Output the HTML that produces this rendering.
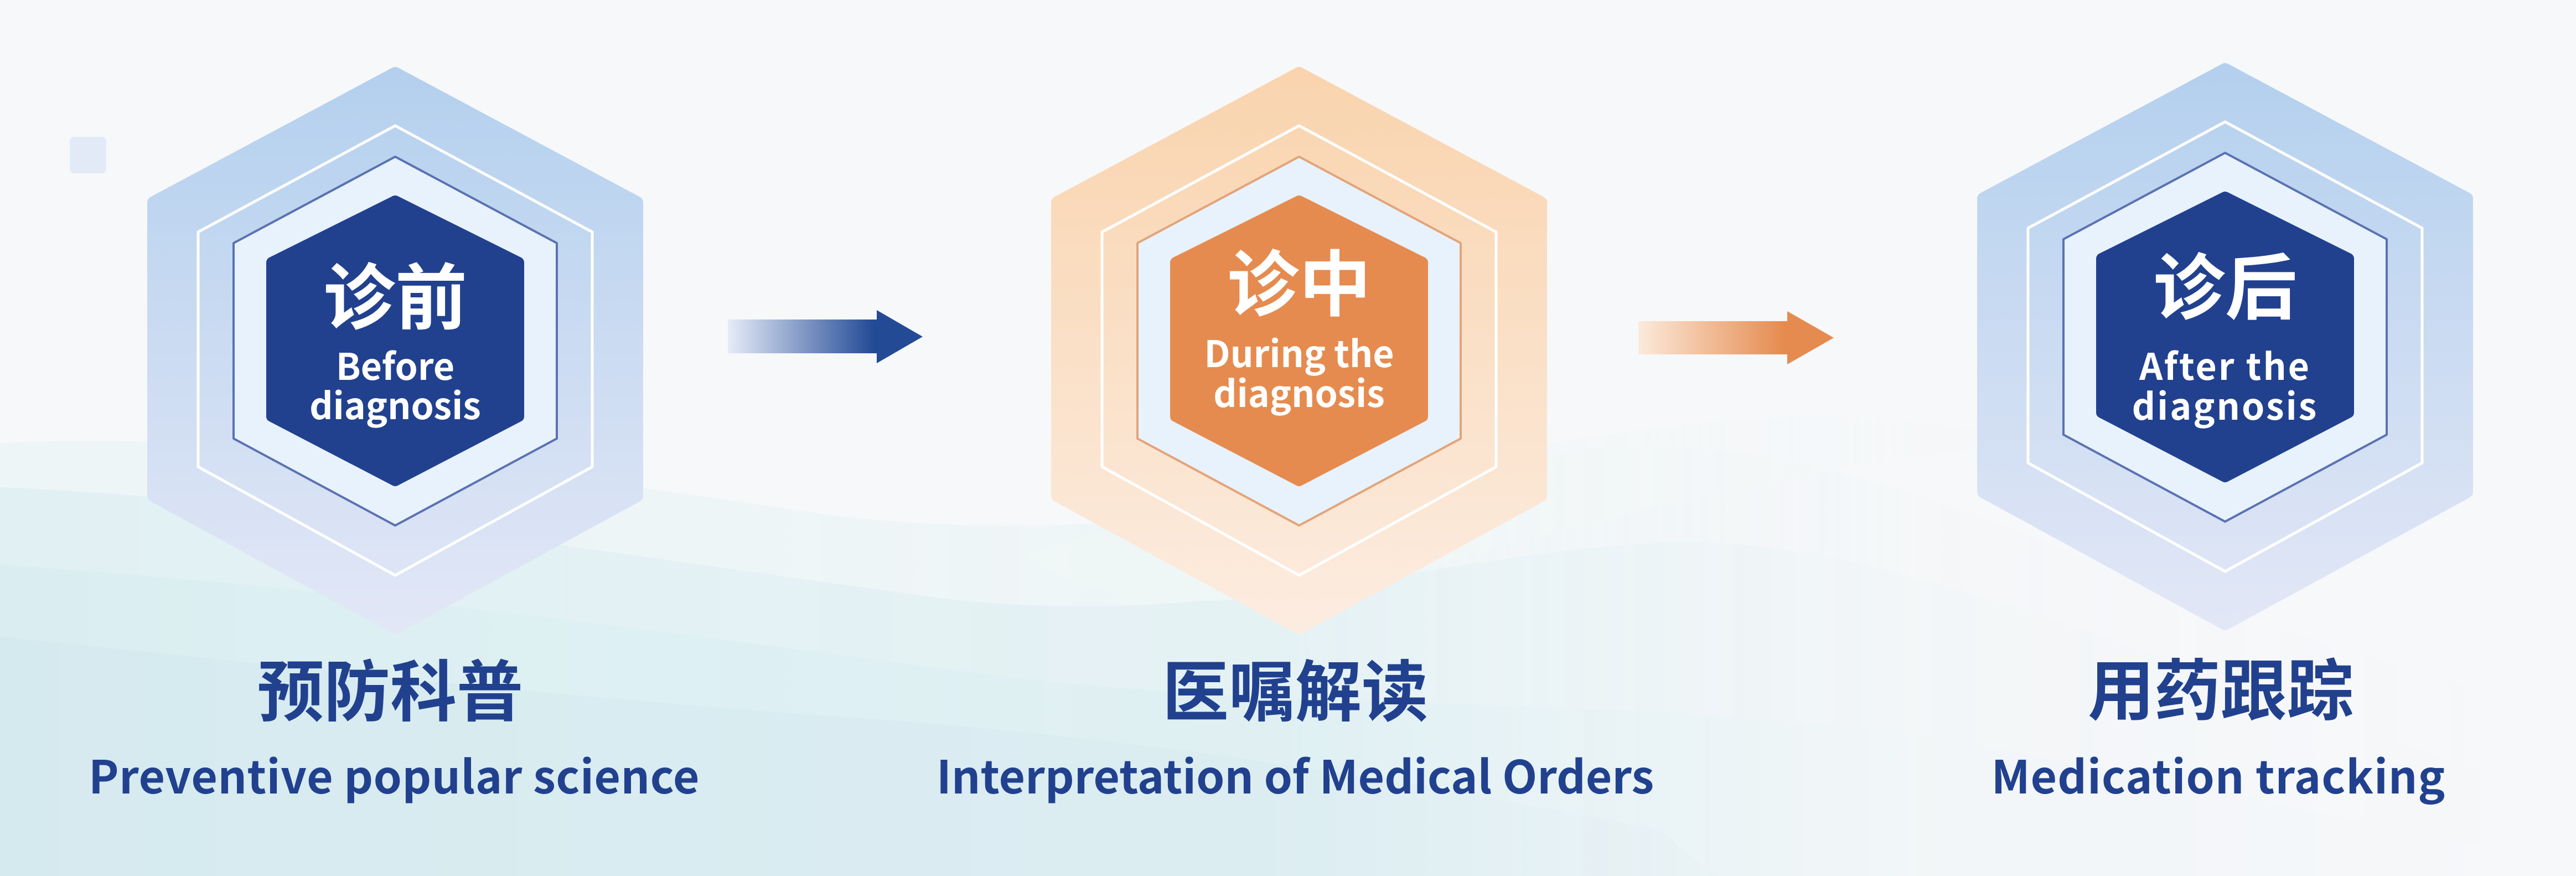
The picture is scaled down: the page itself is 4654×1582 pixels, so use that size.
<!DOCTYPE html>
<html><head><meta charset="utf-8"><style>
html,body{margin:0;padding:0;background:#f7f8fa;}
svg{display:block;}
text{font-family:"Noto Sans CJK SC","Liberation Sans",sans-serif;font-weight:700;}
</style></head><body>
<svg width="4654" height="1582" viewBox="0 0 4654 1582" xmlns="http://www.w3.org/2000/svg">
<defs>
<linearGradient id="bo" x1="0" y1="0" x2="0" y2="1"><stop offset="0" stop-color="#b4d0ee"/><stop offset="1" stop-color="#e2e7f6"/></linearGradient>
<linearGradient id="oo" x1="0" y1="0" x2="0" y2="1"><stop offset="0" stop-color="#f9d4ae"/><stop offset="1" stop-color="#fcece0"/></linearGradient>
<linearGradient id="a1" x1="0" y1="0" x2="1" y2="0"><stop offset="0" stop-color="#e6ecf8"/><stop offset="0.75" stop-color="#234a95"/><stop offset="1" stop-color="#234a95"/></linearGradient>
<linearGradient id="a2" x1="0" y1="0" x2="1" y2="0"><stop offset="0" stop-color="#fbeadb"/><stop offset="0.75" stop-color="#e58b4f"/><stop offset="1" stop-color="#e58b4f"/></linearGradient>
<linearGradient id="fade" x1="0" y1="0" x2="1" y2="0"><stop offset="0" stop-color="#fff" stop-opacity="1"/><stop offset="0.5" stop-color="#fff" stop-opacity="0.8"/><stop offset="0.75" stop-color="#fff" stop-opacity="0.15"/><stop offset="1" stop-color="#fff" stop-opacity="0"/></linearGradient>
<mask id="m"><rect width="4654" height="1582" fill="url(#fade)"/></mask>
</defs>
<rect width="4654" height="1582" fill="#f7f8fa"/>
<g mask="url(#m)">
<path d="M0,800 C400,780 900,840 1500,930 C2000,990 2400,900 2800,820 C3200,760 3500,900 4000,1100 L4654,1300 L4654,1582 L0,1582Z" fill="#eaf4f5" opacity="0.8"/>
<path d="M0,880 C500,900 1100,1000 1700,1080 C2200,1140 2600,1000 3000,980 C3400,960 3900,1200 4654,1450 L4654,1582 L0,1582Z" fill="#dfeff2" opacity="0.8"/>
<path d="M0,1020 C600,1060 1200,1140 1800,1220 C2300,1280 2700,1260 3200,1300 C3700,1340 4200,1480 4654,1560 L4654,1582 L0,1582Z" fill="#d7ecf0" opacity="0.7"/>
<path d="M0,1150 C500,1200 1000,1260 1600,1300 C2100,1340 2500,1400 3000,1500 L3100,1582 L0,1582Z" fill="#d2e8ee" opacity="0.6"/>
<path d="M1850,1000 C2200,900 2600,820 3100,760 C3300,740 3500,760 3700,800 C3400,820 3000,900 2600,1020 C2300,1100 2000,1120 1850,1000Z" fill="#eef6f7" opacity="0.7"/>
</g>
<rect x="126" y="247" width="66" height="66" rx="8" fill="#e3eaf7"/>

<!-- Hex 1 -->
<g transform="translate(714,0)">
<polygon points="0,133 436,366 436,895 0,1133 -436,895 -436,366" fill="url(#bo)" stroke="url(#bo)" stroke-width="24" stroke-linejoin="round"/>
<polygon points="0,227 356,419 356,843 0,1039 -356,843 -356,419" fill="none" stroke="#ffffff" stroke-width="5" stroke-linejoin="round"/>
<polygon points="0,283 292,439 292,792 0,949 -292,792 -292,439" fill="#e8f2fc" stroke="#5a72b2" stroke-width="4" stroke-linejoin="round"/>
<polygon points="0,363 223,474 223,752 0,868 -223,752 -223,474" fill="#21418f" stroke="#21418f" stroke-width="20" stroke-linejoin="round"/>
<text x="0" y="584" font-size="130" fill="#fff" text-anchor="middle">诊前</text>
<text x="0" y="686" font-size="66" fill="#fff" text-anchor="middle">Before</text>
<text x="0" y="757" font-size="66" fill="#fff" text-anchor="middle">diagnosis</text>
</g>
<text x="705" y="1292" font-size="120" fill="#21418f" text-anchor="middle">预防科普</text>
<text x="712" y="1433" font-size="82" fill="#21418f" text-anchor="middle" letter-spacing="0.5">Preventive popular science</text>

<!-- Arrow 1 -->
<polygon points="1315,577 1584,577 1584,560 1667,608 1584,656 1584,638 1315,638" fill="url(#a1)"/>

<!-- Hex 2 -->
<g transform="translate(2347,0)">
<polygon points="0,133 436,366 436,895 0,1133 -436,895 -436,366" fill="url(#oo)" stroke="url(#oo)" stroke-width="24" stroke-linejoin="round"/>
<polygon points="0,227 356,419 356,843 0,1039 -356,843 -356,419" fill="none" stroke="#ffffff" stroke-width="5" stroke-linejoin="round"/>
<polygon points="0,283 292,439 292,792 0,949 -292,792 -292,439" fill="#e8f2fc" stroke="#e2a47a" stroke-width="4" stroke-linejoin="round"/>
<polygon points="0,363 223,474 223,752 0,868 -223,752 -223,474" fill="#e58b4f" stroke="#e58b4f" stroke-width="20" stroke-linejoin="round"/>
<text x="0" y="560" font-size="130" fill="#fff" text-anchor="middle">诊中</text>
<text x="0" y="663" font-size="66" fill="#fff" text-anchor="middle">During the</text>
<text x="0" y="735" font-size="66" fill="#fff" text-anchor="middle">diagnosis</text>
</g>
<text x="2340" y="1292" font-size="120" fill="#21418f" text-anchor="middle">医嘱解读</text>
<text x="2340" y="1433" font-size="82" fill="#21418f" text-anchor="middle">Interpretation of Medical Orders</text>

<!-- Arrow 2 -->
<polygon points="2960,580 3229,580 3229,562 3313,610 3229,658 3229,640 2960,640" fill="url(#a2)"/>

<!-- Hex 3 -->
<g transform="translate(4020,-7)">
<polygon points="0,133 436,366 436,895 0,1133 -436,895 -436,366" fill="url(#bo)" stroke="url(#bo)" stroke-width="24" stroke-linejoin="round"/>
<polygon points="0,227 356,419 356,843 0,1039 -356,843 -356,419" fill="none" stroke="#ffffff" stroke-width="5" stroke-linejoin="round"/>
<polygon points="0,283 292,439 292,792 0,949 -292,792 -292,439" fill="#e8f2fc" stroke="#5a72b2" stroke-width="4" stroke-linejoin="round"/>
<polygon points="0,363 223,474 223,752 0,868 -223,752 -223,474" fill="#21418f" stroke="#21418f" stroke-width="20" stroke-linejoin="round"/>
</g>
<text x="4020" y="566" font-size="130" fill="#fff" text-anchor="middle">诊后</text>
<text x="4020" y="686" font-size="66" fill="#fff" text-anchor="middle" letter-spacing="3">After the</text>
<text x="4020" y="758" font-size="66" fill="#fff" text-anchor="middle" letter-spacing="3">diagnosis</text>
<text x="4012" y="1290" font-size="120" fill="#21418f" text-anchor="middle">用药跟踪</text>
<text x="4008" y="1433" font-size="82" fill="#21418f" text-anchor="middle" letter-spacing="1">Medication tracking</text>
</svg>
</body></html>
